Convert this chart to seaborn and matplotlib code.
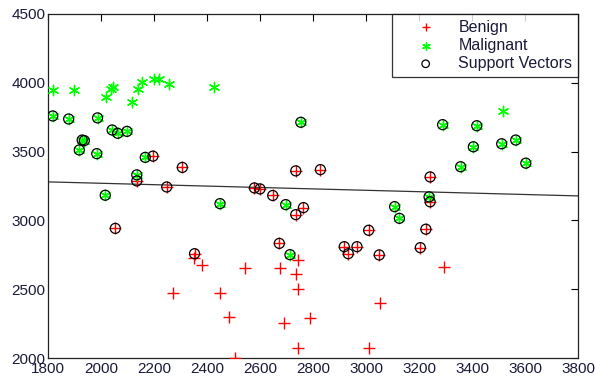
import numpy as np
import pandas as pd
import matplotlib
matplotlib.use("Agg")
import matplotlib.pyplot as plt
import seaborn as sns

# Benign (red +) points
benign_x = [2196, 2307, 2135, 2248, 2579, 2600, 2648, 2735, 2828, 3242,
            2054, 2353, 2673, 2735, 2764, 3010, 2918, 2933, 2966, 3050,
            3205, 3226, 3242,
            2351, 2381, 2270, 2449, 2482, 2506, 2542, 2674, 2745, 2736,
            2743, 2692, 2790, 2742, 3296, 3053, 3011]
benign_y = [3467, 3385, 3287, 3243, 3236, 3229, 3181, 3360, 3369, 3316,
            2942, 2758, 2833, 3042, 3093, 2928, 2809, 2758, 2809, 2749,
            2802, 2936, 3135,
            2724, 2675, 2471, 2471, 2301, 2002, 2654, 2654, 2712, 2614,
            2498, 2255, 2289, 2071, 2661, 2399, 2071]
benign_sv = [1] * 23 + [0] * 17

# Malignant (green *) points
malig_x = [1820, 1899, 2020, 2038, 2047, 2117, 2138, 2153, 2201, 2219,
           2257, 2425, 3518,
           1818, 1878, 1987, 2042, 2063, 2098, 1929, 1937, 1918, 1984,
           2167, 2135, 2016, 2754, 3289, 3418, 3405, 3512, 3565, 3357,
           3603, 3238, 2449, 2697, 2713, 3108, 3126]
malig_y = [3948, 3948, 3900, 3958, 3972, 3863, 3953, 4009, 4026, 4026,
           3992, 3968, 3793,
           3759, 3737, 3745, 3657, 3633, 3647, 3584, 3580, 3512, 3485,
           3458, 3331, 3183, 3713, 3696, 3688, 3535, 3557, 3584, 3390,
           3416, 3171, 3122, 3115, 2751, 3100, 3015]
malig_sv = [0] * 13 + [1] * 27

# Decision boundary endpoints
line_x = [1800, 3800]
line_y = [3280, 3178]

x_ticks = [1800, 2000, 2200, 2400, 2600, 2800, 3000, 3200, 3400, 3600, 3800]
y_ticks = [2000, 2500, 3000, 3500, 4000, 4500]

benign = pd.DataFrame({"x": benign_x, "y": benign_y, "sv": benign_sv})
malig = pd.DataFrame({"x": malig_x, "y": malig_y, "sv": malig_sv})
sv = pd.concat([benign[benign.sv == 1], malig[malig.sv == 1]])
line = pd.DataFrame({"x": line_x, "y": line_y})

sns.set_style("white")
plt.rcParams['font.family'] = ['Liberation Sans', 'DejaVu Sans']

fig = plt.figure(figsize=(5.95, 3.79), dpi=100)
ax = fig.add_axes([48 / 595, 1 - 358 / 379, 530 / 595, 344 / 379])

asterisk = (6, 2, 0)
sns.scatterplot(data=benign, x="x", y="y", marker="+", color="#ff0000",
                s=72, linewidth=1.0, ax=ax, label="Benign", zorder=3)
sns.scatterplot(data=malig, x="x", y="y", marker=asterisk, color="#00ff00",
                s=55, linewidth=1.0, ax=ax, label="Malignant", zorder=3)
sns.scatterplot(data=sv, x="x", y="y", marker="o", facecolor="none",
                edgecolor="black", s=52, linewidth=0.9, ax=ax,
                label="Support Vectors", zorder=4)
sns.lineplot(data=line, x="x", y="y", color="#333333", linewidth=0.9,
             ax=ax, zorder=2, legend=False)

ax.set_xlim(1800, 3800)
ax.set_ylim(2000, 4500)
ax.set_xticks(x_ticks)
ax.set_yticks(y_ticks)
ax.set_xlabel("")
ax.set_ylabel("")
ax.tick_params(direction="in", top=True, right=True, length=5, width=0.8,
               labelsize=11, colors="black", labelcolor="#1a1a3a", pad=2)
ax.tick_params(axis="x", pad=3)
for sp in ax.spines.values():
    sp.set_visible(True)
    sp.set_color("#222222")
    sp.set_linewidth(0.9)

leg = ax.legend(loc="upper right", fontsize=11.5, frameon=True, fancybox=False,
                edgecolor="black", borderaxespad=0.0, handletextpad=0.3,
                borderpad=0.35, labelspacing=0.2, handlelength=3.5,
                markerscale=0.75)
leg.get_frame().set_linewidth(0.9)
for t in leg.get_texts():
    t.set_color("#1a1a3a")

fig.savefig("out.png", dpi=100)
